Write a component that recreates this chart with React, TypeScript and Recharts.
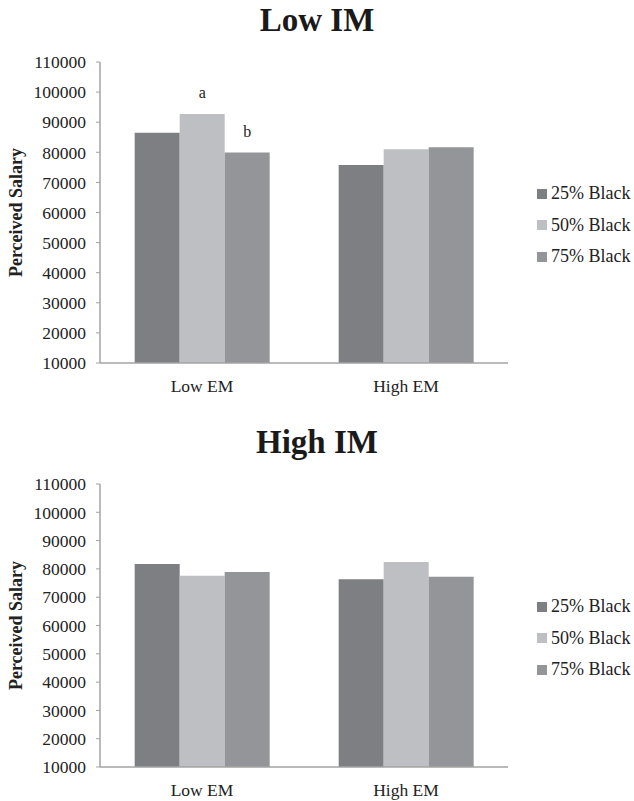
import { BarChart, Bar, XAxis, YAxis, Legend, LabelList } from "recharts"

const categories = ["Low EM", "High EM"]
const seriesNames = ["25% Black", "50% Black", "75% Black"]
const seriesColors = ["#7e7f83", "#bebfc2", "#949599"]
const yTicks = [10000, 20000, 30000, 40000, 50000, 60000, 70000, 80000, 90000, 100000, 110000]

// Low IM panel
const lowIM25 = [86500, 75800]
const lowIM50 = [92700, 81000]
const lowIM75 = [79900, 81700]
const lowIMNotes50 = ["a", null]
const lowIMNotes75 = ["b", null]

// High IM panel
const highIM25 = [81700, 76300]
const highIM50 = [77600, 82400]
const highIM75 = [78900, 77200]

const font = "'Liberation Serif', 'Times New Roman', serif"

function buildRows(s25: number[], s50: number[], s75: number[], n50?: (string | null)[], n75?: (string | null)[]) {
  return categories.map((c, i) => ({
    name: c,
    "25% Black": s25[i],
    "50% Black": s50[i],
    "75% Black": s75[i],
    note50: n50 ? n50[i] : null,
    note75: n75 ? n75[i] : null,
  }))
}

const lowRows = buildRows(lowIM25, lowIM50, lowIM75, lowIMNotes50, lowIMNotes75)
const highRows = buildRows(highIM25, highIM50, highIM75)

function LegendBox() {
  return (
    <div style={{ fontFamily: font, fontSize: 18, color: "#222" }}>
      {seriesNames.map((s, i) => (
        <div key={s} style={{ height: 31.5, display: "flex", alignItems: "center" }}>
          <span style={{ width: 10, height: 10, background: seriesColors[i], display: "inline-block", marginRight: 4 }} />
          <span>{s}</span>
        </div>
      ))}
    </div>
  )
}

interface PanelProps {
  rows: any[]
  height: number
  top: number
  bottom: number
  legendTop: number
}

function Panel({ rows, height, top, bottom, legendTop }: PanelProps) {
  const axisColor = "#a3a3a3"
  return (
    <BarChart
      width={634}
      height={height}
      data={rows}
      margin={{ top, right: 126, left: 0, bottom }}
      barCategoryGap="17%"
      barGap={0}
    >
      <XAxis
        dataKey="name"
        height={30}
        axisLine={{ stroke: axisColor, strokeWidth: 1.5 }}
        tickLine={false}
        tickSize={6}
        tickMargin={11}
        tick={{ fill: "#222", fontSize: 17.5, fontFamily: font }}
      />
      <YAxis
        width={100}
        domain={[10000, 110000]}
        ticks={yTicks}
        interval={0}
        allowDataOverflow
        axisLine={{ stroke: axisColor, strokeWidth: 1.5 }}
        tickLine={{ stroke: axisColor }}
        tickSize={4}
        tickMargin={10}
        tick={{ fill: "#222", fontSize: 17.5, fontFamily: font }}
        label={{
          value: "Perceived Salary",
          angle: -90,
          position: "insideLeft",
          offset: 16,
          style: { textAnchor: "middle", fontFamily: font, fontSize: 18, fontWeight: "bold", fill: "#222" },
        }}
      />
      <Legend
        layout="horizontal"
        verticalAlign="middle"
        align="center"
        content={() => <LegendBox />}
        wrapperStyle={{ left: 537, top: legendTop, width: 100, height: 95 }}
      />
      <Bar dataKey="25% Black" fill={seriesColors[0]} isAnimationActive={false} />
      <Bar dataKey="50% Black" fill={seriesColors[1]} isAnimationActive={false}>
        <LabelList dataKey="note50" position="top" offset={16} style={{ fontFamily: font, fontSize: 16, fill: "#222" }} />
      </Bar>
      <Bar dataKey="75% Black" fill={seriesColors[2]} isAnimationActive={false}>
        <LabelList dataKey="note75" position="top" offset={16} style={{ fontFamily: font, fontSize: 16, fill: "#222" }} />
      </Bar>
    </BarChart>
  )
}

const titleStyle = {
  position: "absolute" as const,
  left: 0,
  width: 634,
  textAlign: "center" as const,
  fontFamily: font,
  fontWeight: "bold" as const,
  fontSize: 33,
  lineHeight: "33px",
  color: "#1a1a1a",
}

export default function App() {
  return (
    <div style={{ position: "absolute", left: 0, top: 0, width: 634, height: 801, background: "#fff" }}>
      <div style={{ position: "absolute", left: 0, top: 0 }}>
        <Panel rows={lowRows} height={420} top={62} bottom={27} legendTop={178} />
      </div>
      <div style={{ ...titleStyle, top: 4 }}>Low IM</div>
      <div style={{ position: "absolute", left: 0, top: 420 }}>
        <Panel rows={highRows} height={381} top={64} bottom={4} legendTop={171} />
      </div>
      <div style={{ ...titleStyle, top: 426 }}>High IM</div>
    </div>
  )
}
